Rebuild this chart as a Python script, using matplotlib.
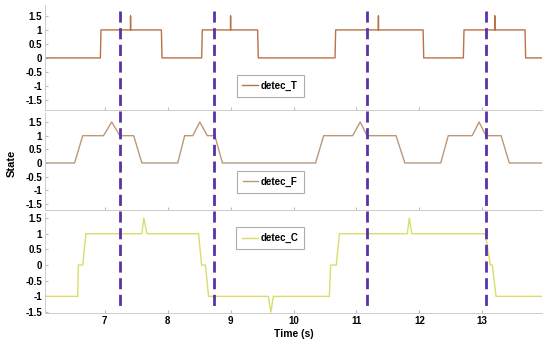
import numpy as np
import matplotlib
matplotlib.use("Agg")
import matplotlib.pyplot as plt
from matplotlib.lines import Line2D
from matplotlib.transforms import blended_transform_factory

# data (time in s, state)
t_T = [6.05, 6.93, 6.94, 7.41, 7.41, 7.41, 7.90, 7.91, 8.54, 8.55, 9.00, 9.00,
       9.00, 9.43, 9.44, 10.66, 10.67, 11.35, 11.35, 11.35, 12.06, 12.07, 12.70,
       12.71, 13.20, 13.20, 13.20, 13.68, 13.69, 13.95]
s_T = [0, 0, 1, 1, 1.5, 1, 1, 0, 0, 1, 1, 1.5,
       1, 1, 0, 0, 1, 1, 1.5, 1, 1, 0, 0,
       1, 1, 1.5, 1, 1, 0, 0]

t_F = [6.05, 6.52, 6.65, 6.98, 7.11, 7.24, 7.46, 7.59, 8.16, 8.27, 8.40, 8.51, 8.63, 8.75,
       8.87, 10.35, 10.48, 10.94, 11.06, 11.17, 11.63, 11.77, 12.34, 12.46, 12.84, 12.95,
       13.06, 13.30, 13.43, 13.95]
s_F = [0, 0, 1, 1, 1.5, 1, 1, 0, 0, 1, 1, 1.5, 1, 1,
       0, 0, 1, 1, 1.5, 1, 1, 0, 0, 1, 1, 1.5,
       1, 1, 0, 0]

t_C = [6.05, 6.57, 6.58, 6.65, 6.70, 7.59, 7.62, 7.67, 8.49, 8.54, 8.60, 8.65, 9.60, 9.64,
       9.68, 10.57, 10.59, 10.68, 10.73, 11.81, 11.84, 11.88, 13.05, 13.13, 13.16, 13.22, 13.95]
s_C = [-1, -1, 0, 0, 1, 1, 1.5, 1, 1, 0, 0, -1, -1, -1.5,
       -1, -1, 0, 0, 1, 1, 1.5, 1, 1, 0, 0, -1, -1]

events = [7.25, 8.73, 11.17, 13.06]

yticks = [-1.5, -1, -0.5, 0, 0.5, 1, 1.5]
ytick_labels = ["-1.5", "-1", "-0.5", "0", "0.5", "1", "1.5"]
xticks = [7, 8, 9, 10, 11, 12, 13]

plt.rcParams.update({'font.family': ['Liberation Sans', 'DejaVu Sans']})
plt.rcParams.update({'font.size': 7})

W, H = 550, 343
fig = plt.figure(figsize=(W / 100, H / 100), dpi=100)


def px_axes(left, top, right, bottom):
    return fig.add_axes([left / W, 1 - bottom / H, (right - left) / W, (bottom - top) / H])


panels = [
    (px_axes(45, 5, 542, 110), t_T, s_T, '#b87348', 'detec_T', (-1.86, 1.89), 0.23),
    (px_axes(45, 113, 542, 210), t_F, s_F, '#bb9878', 'detec_F', (-1.72, 1.83), 0.29),
    (px_axes(45, 213, 542, 313), t_C, s_C, '#dcdc6a', 'detec_C', (-1.53, 1.66), 0.75),
]

for ax, t, s, color, label, ylim, ly in panels:
    ax.plot(t, s, color=color, lw=1.0, label=label)
    ax.set_xlim(6.05, 13.95)
    ax.set_ylim(*ylim)
    ax.set_yticks(yticks)
    ax.set_yticklabels(ytick_labels, fontweight='bold')
    ax.set_xticks(xticks)
    for side in ['top', 'right']:
        ax.spines[side].set_visible(False)
    for side in ['left', 'bottom']:
        ax.spines[side].set_color('#cccccc')
        ax.spines[side].set_linewidth(0.7)
    ax.tick_params(axis='both', direction='in', length=2, color='#bbbbbb', pad=2)
    ax.patch.set_alpha(0)
    leg = ax.legend(loc='center', bbox_to_anchor=(0.453, ly), frameon=True, fancybox=False,
                    handlelength=1.6, handletextpad=0.3, borderpad=0.6,
                    prop={'weight': 'bold', 'size': 7})
    leg.get_frame().set_edgecolor('#999999')
    leg.get_frame().set_linewidth(0.8)

for ax, *_ in panels[:2]:
    ax.set_xticklabels([])
ax3 = panels[2][0]
ax3.set_xticklabels([str(x) for x in xticks], fontweight='bold')
ax3.set_xlabel("Time (s)", fontweight='bold', fontsize=7.5, labelpad=2)
fig.text(12 / W, 1 - 163 / H, "State", rotation=90, ha='center', va='center',
         fontweight='bold', fontsize=8)

# event markers spanning all panels
tr = blended_transform_factory(ax3.transData, fig.transFigure)
for e in events:
    fig.add_artist(Line2D([e, e], [1 - 11 / H, 1 - 308 / H], transform=tr, color='#5a32a6',
                          lw=2.0, linestyle=(0, (4, 2))))

fig.savefig("out.png", dpi=100)
